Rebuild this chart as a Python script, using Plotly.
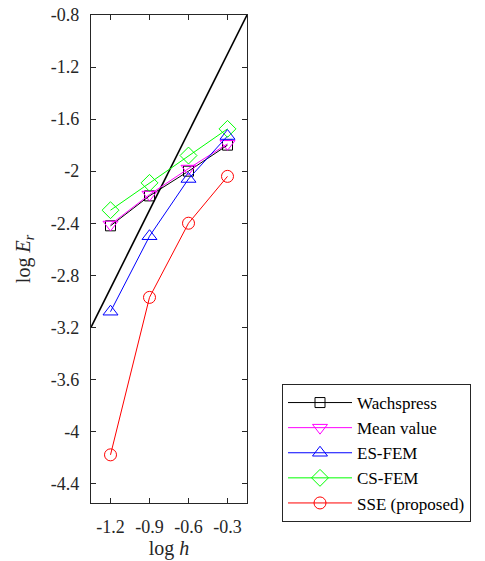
import plotly.graph_objects as go

log_h = [-1.2, -0.9, -0.6, -0.3]
wachspress = [-2.42, -2.19, -2.00, -1.80]
mean_value = [-2.41, -2.18, -1.98, -1.79]
es_fem = [-3.08, -2.50, -2.06, -1.73]
cs_fem = [-2.30, -2.09, -1.88, -1.675]
sse = [-4.18, -2.97, -2.40, -2.04]
ref_x = [-1.35, -0.15]
ref_y = [-3.2, -0.8]
y_ticks = [-0.8, -1.2, -1.6, -2.0, -2.4, -2.8, -3.2, -3.6, -4.0, -4.4]
y_ticktext = ["-0.8", "-1.2", "-1.6", "-2", "-2.4", "-2.8", "-3.2", "-3.6", "-4", "-4.4"]
x_ticktext = ["-1.2", "-0.9", "-0.6", "-0.3"]

series = [
    ("Wachspress", wachspress, "#000000", "square-open", 10),
    ("Mean value", mean_value, "#ff00ff", "triangle-down-open", 13),
    ("ES-FEM", es_fem, "#0000ff", "triangle-up-open", 13),
    ("CS-FEM", cs_fem, "#00ff00", "diamond-open", 13),
    ("SSE (proposed)", sse, "#ff0000", "circle-open", 12),
]

fig = go.Figure()
fig.add_trace(go.Scatter(x=ref_x, y=ref_y, mode="lines", line=dict(color="#000000", width=1.6),
                         showlegend=False, hoverinfo="skip"))
for name, ys, col, sym, sz in series:
    fig.add_trace(go.Scatter(x=log_h, y=ys, mode="lines+markers", name=name,
                             line=dict(color=col, width=1),
                             marker=dict(symbol=sym, size=sz, color=col, line=dict(width=1, color=col))))

axis_common = dict(showline=True, linecolor="#262626", linewidth=1.2, mirror="ticks",
                   ticks="inside", ticklen=5, tickcolor="#262626", showgrid=False, zeroline=False,
                   ticklabelstandoff=7,
                   tickfont=dict(family="Liberation Serif", size=18, color="#262626"))

fig.update_layout(
    width=485, height=561,
    margin=dict(l=91, r=238, t=15, b=58, autoexpand=False),
    plot_bgcolor="white", paper_bgcolor="white",
    font=dict(family="Liberation Serif", color="#262626"),
    xaxis=dict(range=[-1.35, -0.15], tickvals=log_h, ticktext=x_ticktext,
               title=dict(text="log <i>h</i>", font=dict(family="Liberation Serif", size=20, color="#262626"), standoff=3),
               **axis_common),
    yaxis=dict(range=[-4.55, -0.8], tickvals=y_ticks, ticktext=y_ticktext,
               title=dict(text="log <i>E<sub>r</sub></i>", font=dict(family="Liberation Serif", size=20, color="#262626"), standoff=14),
               **axis_common),
    legend=dict(x=282 / 485, y=1 - 384 / 561, xref="container", yref="container",
                xanchor="left", yanchor="top", bordercolor="#262626", borderwidth=1,
                bgcolor="white", font=dict(family="Liberation Serif", size=17, color="#000000"),
                itemwidth=64, tracegroupgap=0),
    showlegend=True,
)

fig.write_html("out.html", config={"displayModeBar": False},
               post_script="document.body.style.margin='0';document.body.style.padding='0';")
